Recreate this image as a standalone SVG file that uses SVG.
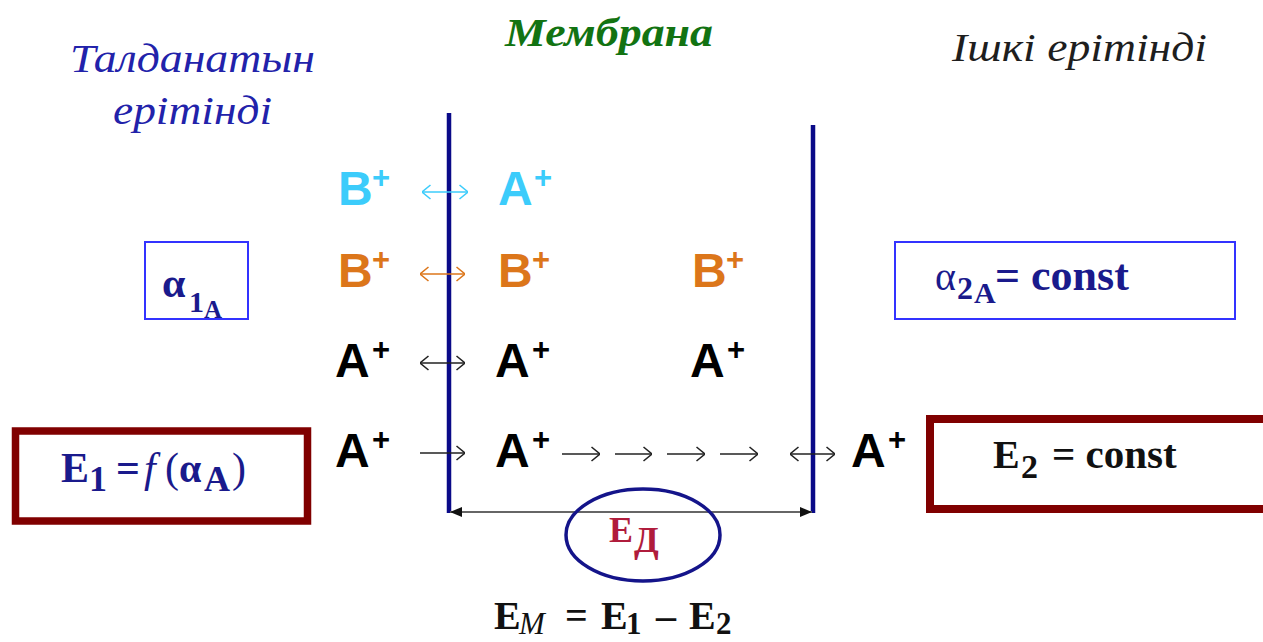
<svg xmlns="http://www.w3.org/2000/svg" width="1263" height="642" viewBox="0 0 1263 642">
<style>
.title{font-family:"Liberation Serif","DejaVu Serif",serif;font-style:italic}
.ion{font-family:"Liberation Sans",Arial,sans-serif;font-weight:bold;font-size:48px}
.sup{font-family:"Liberation Sans",Arial,sans-serif;font-weight:bold;font-size:31px}
.math{font-family:"Liberation Serif","Times New Roman",serif;font-weight:bold}
.mathn{font-family:"Liberation Serif","Times New Roman",serif;font-weight:normal}
.it{font-style:italic}
.cyan{fill:#3cccfb}
.orange{fill:#dc761a}
.black{fill:#000}
.arr{fill:none;stroke-width:1.6}
</style>
<defs>
<marker id="chevC" viewBox="0 0 9 16" refX="9" refY="8" markerWidth="9" markerHeight="16" markerUnits="userSpaceOnUse" orient="auto-start-reverse"><path d="M0.5,1 L9,8 L0.5,15" fill="none" stroke="#3cccfb" stroke-width="1.6"/></marker>
<marker id="chevO" viewBox="0 0 9 16" refX="9" refY="8" markerWidth="9" markerHeight="16" markerUnits="userSpaceOnUse" orient="auto-start-reverse"><path d="M0.5,1 L9,8 L0.5,15" fill="none" stroke="#dc761a" stroke-width="1.6"/></marker>
<marker id="chevK" viewBox="0 0 9 16" refX="9" refY="8" markerWidth="9" markerHeight="16" markerUnits="userSpaceOnUse" orient="auto-start-reverse"><path d="M0.5,1 L9,8 L0.5,15" fill="none" stroke="#222" stroke-width="1.6"/></marker>
<marker id="tri" viewBox="0 0 12 10" refX="12" refY="5" markerWidth="12" markerHeight="10" markerUnits="userSpaceOnUse" orient="auto-start-reverse"><path d="M0,0 L12,5 L0,10 Z" fill="#111"/></marker>
</defs>
<rect width="1263" height="642" fill="#fff"/>

<g id="titles">
<text class="title" x="70" y="72" font-size="40" fill="#2222aa" textLength="245" lengthAdjust="spacingAndGlyphs">Талданатын</text>
<text class="title" x="113" y="124" font-size="40" fill="#2222aa" textLength="159" lengthAdjust="spacingAndGlyphs">ерітінді</text>
<text class="title" x="505" y="46" font-size="40" font-weight="bold" fill="#127312" textLength="208" lengthAdjust="spacingAndGlyphs">Мембрана</text>
<text class="title" x="952" y="61" font-size="40" fill="#1e1e1e" textLength="255" lengthAdjust="spacingAndGlyphs">Ішкі ерітінді</text>
</g>

<g id="membrane">
<line x1="449" y1="113" x2="449" y2="513" stroke="#0a0a88" stroke-width="4.5"/>
<line x1="813" y1="125" x2="813" y2="513" stroke="#0a0a88" stroke-width="4.5"/>
</g>

<g id="connectors">
<line class="arr" x1="422" y1="192" x2="468" y2="192" stroke="#3cccfb" marker-start="url(#chevC)" marker-end="url(#chevC)"/>
<line class="arr" x1="420" y1="274" x2="465" y2="274" stroke="#dc761a" marker-start="url(#chevO)" marker-end="url(#chevO)"/>
<line class="arr" x1="420" y1="363" x2="465" y2="363" stroke="#222" marker-start="url(#chevK)" marker-end="url(#chevK)"/>
<line class="arr" x1="420" y1="453" x2="465" y2="453" stroke="#222" marker-end="url(#chevK)"/>
<line class="arr" x1="562" y1="454" x2="600" y2="454" stroke="#222" marker-end="url(#chevK)"/>
<line class="arr" x1="615" y1="454" x2="652" y2="454" stroke="#222" marker-end="url(#chevK)"/>
<line class="arr" x1="667" y1="454" x2="705" y2="454" stroke="#222" marker-end="url(#chevK)"/>
<line class="arr" x1="720" y1="454" x2="758" y2="454" stroke="#222" marker-end="url(#chevK)"/>
<line class="arr" x1="790" y1="454" x2="835" y2="454" stroke="#222" marker-start="url(#chevK)" marker-end="url(#chevK)"/>
<line x1="450" y1="512" x2="812" y2="512" stroke="#666" stroke-width="2" marker-start="url(#tri)" marker-end="url(#tri)"/>
</g>

<g id="row1">
<text class="ion cyan" x="338" y="205">B</text><text class="sup cyan" x="372" y="188">+</text>
<text class="ion cyan" x="498" y="205">A</text><text class="sup cyan" x="534" y="188">+</text>
</g>
<g id="row2">
<text class="ion orange" x="338" y="287">B</text><text class="sup orange" x="372" y="270">+</text>
<text class="ion orange" x="498" y="287">B</text><text class="sup orange" x="532" y="270">+</text>
<text class="ion orange" x="692" y="287">B</text><text class="sup orange" x="726" y="270">+</text>
</g>
<g id="row3">
<text class="ion black" x="335" y="377">A</text><text class="sup black" x="372" y="360">+</text>
<text class="ion black" x="495" y="377">A</text><text class="sup black" x="532" y="360">+</text>
<text class="ion black" x="690" y="377">A</text><text class="sup black" x="727" y="360">+</text>
</g>
<g id="row4">
<text class="ion black" x="335" y="467">A</text><text class="sup black" x="372" y="450">+</text>
<text class="ion black" x="495" y="467">A</text><text class="sup black" x="532" y="450">+</text>
<text class="ion black" x="851" y="467">A</text><text class="sup black" x="888" y="450">+</text>
</g>

<g id="alpha1">
<rect x="145" y="242" width="103" height="77" fill="none" stroke="#3333ff" stroke-width="2"/>
<text class="math" x="162" y="297" font-size="42" fill="#1a1a8c">α</text>
<text class="math" x="189" y="312" font-size="30" fill="#1a1a8c">1</text>
<text class="math" x="204" y="318" font-size="25" fill="#1a1a8c">A</text>
</g>

<g id="alpha2">
<rect x="895" y="242" width="340" height="77" fill="none" stroke="#3333ff" stroke-width="2"/>
<text class="mathn" x="935" y="290" font-size="40" fill="#1a1a8c">α</text>
<text class="math" x="957" y="299" font-size="32" fill="#1a1a8c">2</text>
<text class="math" x="974" y="303" font-size="30" fill="#1a1a8c">A</text>
<text class="math" x="995" y="290" font-size="44" fill="#1a1a8c">= const</text>
</g>

<g id="e1">
<rect x="15.5" y="431" width="292" height="90" fill="none" stroke="#800000" stroke-width="7.5"/>
<text class="math" x="61" y="482" font-size="42" fill="#1a1a8c">E</text>
<text class="math" x="89" y="491" font-size="36" fill="#1a1a8c">1</text>
<text class="math" x="116" y="482" font-size="42" fill="#1a1a8c">=</text>
<text class="mathn it" x="144" y="482" font-size="42" fill="#1a1a8c">f</text>
<text class="mathn" x="165" y="482" font-size="42" fill="#1a1a8c">(</text>
<text class="math" x="179" y="482" font-size="40" fill="#1a1a8c">α</text>
<text class="math" x="204" y="491" font-size="36" fill="#1a1a8c">A</text>
<text class="mathn" x="232" y="482" font-size="42" fill="#1a1a8c">)</text>
</g>

<g id="e2">
<rect x="930" y="419" width="360" height="90" fill="none" stroke="#800000" stroke-width="8"/>
<text class="math" x="993" y="468" font-size="40" fill="#111">E</text>
<text class="math" x="1021" y="478" font-size="34" fill="#111">2</text>
<text class="math" x="1052" y="468" font-size="41" fill="#111">= const</text>
</g>

<g id="ed">
<ellipse cx="643" cy="535" rx="77" ry="46" fill="none" stroke="#14148a" stroke-width="3.5"/>
<text class="math" x="609" y="542" font-size="36" fill="#b01c3c">E</text>
<text class="math" x="634" y="552" font-size="36" fill="#b01c3c">Д</text>
</g>

<g id="em">
<text class="math" x="494" y="629" font-size="40" fill="#111">E</text>
<text class="mathn it" x="519" y="634" font-size="31" fill="#111">M</text>
<text class="math" x="565" y="629" font-size="40" fill="#111">=</text>
<text class="math" x="601" y="629" font-size="40" fill="#111">E</text>
<text class="math" x="626" y="634" font-size="31" fill="#111">1</text>
<text class="math" x="656" y="629" font-size="40" fill="#111">–</text>
<text class="math" x="689" y="629" font-size="40" fill="#111">E</text>
<text class="math" x="716" y="634" font-size="31" fill="#111">2</text>
</g>
</svg>
